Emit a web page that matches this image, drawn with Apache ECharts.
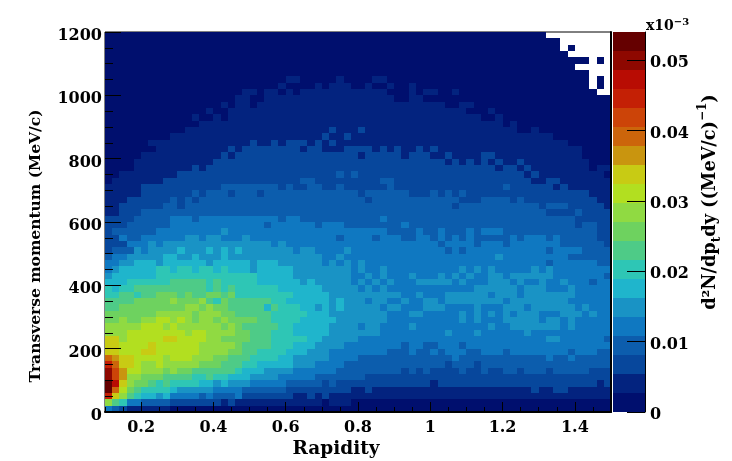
<!DOCTYPE html>
<html>
<head>
<meta charset="utf-8">
<style>
  html, body { margin: 0; padding: 0; background: #fff; }
  #chart { width: 732px; height: 461px; }
</style>
<script src="https://cdn.jsdelivr.net/npm/echarts@6/dist/echarts.min.js"></script>
</head>
<body>
<div id="chart"></div>
<script>
// colour bands of the z scale, lowest first
const bandColors = [
  "#000f6e", "#03237f", "#07479c", "#0c5dad", "#0f78c1",
  "#1993c5", "#1fb5cc", "#2ec6b5", "#4ecb87", "#6ed25f",
  "#90da42", "#b2df20", "#c8cb14", "#c9950f", "#cc650b",
  "#cc4408", "#c42005", "#b80c03", "#8e0800", "#650000",
];
const bandWidth = 0.0027;

const xTicks = [0.2, 0.4, 0.6, 0.8, 1, 1.2, 1.4];
const xMinorTicks = [0.1, 0.15, 0.25, 0.3, 0.35, 0.45, 0.5, 0.55, 0.65, 0.7, 0.75, 0.85, 0.9, 0.95, 1.05, 1.1, 1.15, 1.25, 1.3, 1.35, 1.45, 1.5];
const zTicks = [0, 0.01, 0.02, 0.03, 0.04, 0.05];

// one string per pt row, 1200 at the top. Each char is a colour band (base 20), "." = empty bin
const levelRows = [
  "0000000000 0000000000 0000000000 0000000000 0000000000 0000000000 0.........",
  "0000000000 0000000000 0000000000 0000000000 0000000000 0000000000 000.......",
  "0000000000 0000000000 0000000000 0000000000 0000000000 0000000000 000.0.....",
  "0000000000 0000000000 0000000000 0000000000 0000000000 0000000000 0000......",
  "0000000000 0000000000 0000000000 0000000000 0000000000 0000000000 0000000.0.",
  "0000000000 0000000000 0000000000 0000000000 0000000000 0000000000 00000.....",
  "0000000000 0000000000 0000000000 0000000000 0000000000 0000000000 0000000...",
  "0000000000 0000000000 0000011000 0010000110 0000000000 0000000000 0000000.0.",
  "0000000000 0000000000 0000100001 0111001001 0010000000 0000000000 0000000.0.",
  "0000000000 0000000001 1011010111 1111111110 0010110010 0000000000 00000000..",
  "0000000000 0000000011 0011111111 1111111111 0011000000 0000000000 0000000000",
  "0000000000 0000001011 0111111111 1111111111 1111111001 1000000000 0000000000",
  "0000000000 0000100111 1111111111 1111111111 1111111111 0001000000 0000000000",
  "0000000000 0010010111 1111111111 1111111111 1111111111 1100100000 0000000000",
  "0000000000 0001111111 1111111111 1111111111 1111111111 1111101000 0000000000",
  "0000000000 0111111111 1111111111 1211121111 1111111111 1111111001 0000000000",
  "0000000001 1111111111 1111111111 2112111111 1111111111 1111111111 1100000000",
  "0000001111 1111111111 2112122212 1211111111 1111111111 1111111111 1111000000",
  "0000000111 1111111212 2222222122 1112222121 2112121111 1111111111 1111110000",
  "0000011111 1111112122 2222222222 2222212222 2122211211 1122111111 1111110000",
  "0000111111 1111122222 2222222222 2222222222 2222222121 2121211211 1111111000",
  "0000111111 1121222222 2222222222 2222222222 2222222222 2222122121 1111111011",
  "0011111111 2222222222 2222222222 2232322222 2222222222 2222222212 1111111110",
  "0111111122 2222222222 2222222332 2222222233 2222222222 2222222221 1221111111",
  "1111122222 2222223333 3333232233 2232222223 2222222222 2222232222 2212111111",
  "1111122222 2232333233 3233333333 3333323333 3322232323 2222222222 2222222111",
  "1112222223 2323333333 3333333333 3333332333 3333333332 2233332322 2222222211",
  "1122222233 2333333333 3333333333 3333333333 3333333323 3333333333 2333222221",
  "1122233333 3333333333 3333333333 3333333333 3333333333 3333333333 3222232222",
  "2222333334 4434444444 4444344333 3333333343 3333333333 3333333333 3333322222",
  "2223333334 4444444444 4434444443 4443333333 3433333333 3333333333 3333323322",
  "2333333444 4444445444 4444444444 4444444443 3334334333 4344433333 3333333322",
  "2243344444 4554554445 4444444444 4434444344 4334434343 4333334344 4343333322",
  "2224445455 5555555555 5554544444 4444444444 4444443444 4344434444 4443333332",
  "2333545555 6555656565 5555554554 4445444444 4444444343 4444444444 4344443333",
  "3445555566 5565556555 5555555555 4454444444 4444444444 4444544444 4444333333",
  "4455666566 6666566666 5666555555 4545454444 4444444444 4444444444 4344444433",
  "4566666776 7767767666 5666665555 5555454454 4444444445 4545444445 4544444444",
  "5666666777 7777777777 7666665555 5555445454 4454445454 5445545555 5544444443",
  "6667777778 8888787777 7666666565 5555454545 4445555545 4445554544 5445444344",
  "7677888888 8888787877 7777666666 5555545454 4444444444 4555555455 5444544444",
  "7788788999 8988998977 7777776666 6555555555 5445444555 5554555455 5555544444",
  "888899999a 999a879888 8887766666 6565554554 4544554555 5555545555 5555444444",
  "8899999999 9aa9a99888 8868777665 6565555545 5444555444 4544455545 5555545444",
  "9999999aaa aa9aaa9988 8887777766 6555555554 4455444445 4545454555 4445554544",
  "99a99aabba ba9aa9a999 9887777666 6655555554 4444444445 4544455555 4554544444",
  "aaaaabbbab aaaaaa9a98 8888776666 6555545544 4454444444 4445445555 5554544444",
  "aaabbbbbbb babbaaaa99 8887776666 6555555544 4444444544 4544444454 4444444444",
  "ccabbbbbcc bbbbaa9999 8887777766 5555544444 4444444444 4444444444 4554444443",
  "ccbbbbcbbb bbbaaaaa98 8887776665 5554444444 4344334443 4444444444 4444444444",
  "ccbbbccbbb bbbaaaa998 8777766655 5444444443 3343343444 3344434444 4444344433",
  "edccbbbbab bbaaa99888 7777665555 5444433333 3333333343 3333333333 3433433333",
  "geccbaabaa aaa9998887 7666665554 4443333333 3333333233 3233333333 3333333333",
  "ifdbbaaa9a 9988888876 6655554444 4433333333 3232322223 2232233233 3233333222",
  "ifdaa99988 8877877666 5555444443 3333332222 2222222222 2222222222 2222222222",
  "jhca998787 7776656555 4444433333 2322222222 2222212222 2222222222 2222222212",
  "jeb9877776 5555544443 3333322222 2222112111 1111111111 1111111112 1122111111",
  "gca8766564 4443433342 2222221121 2111111111 1111111111 1111111111 1111111111",
  "a874433332 2222221211 1111111111 0111000000 0000000000 0000000000 0000000000",
  "4321111110 0000000000 0000000000 0000000000 0000000000 0000000000 0000000000",
];

const cells = [];
levelRows.forEach((row, r) => {
  row.replace(/ /g, "").split("").forEach((ch, c) => {
    if (ch !== ".") {
      cells.push([c, levelRows.length - 1 - r, (parseInt(ch, 20) + 0.5) * bandWidth]);
    }
  });
});

const font = "DejaVu Serif";
const textBase = { fontFamily: font, fontWeight: "bold", color: "#000" };
const axisLine = { lineStyle: { color: "#000", width: 1 } };

// heatmap series leaves seams between bins at fractional widths, so snap each bin to pixels
const renderCell = (params, api) => {
  const center = api.coord([api.value(0), api.value(1)]);
  const size = api.size([1, 1]);
  const x0 = Math.round(center[0] - size[0] / 2);
  const x1 = Math.round(center[0] + size[0] / 2);
  const y0 = Math.round(center[1] - size[1] / 2);
  const y1 = Math.round(center[1] + size[1] / 2);
  return {
    type: "rect",
    shape: { x: x0, y: y0, width: x1 - x0, height: y1 - y0 },
    style: { fill: api.visual("color") },
  };
};

const myChart = echarts.init(document.getElementById("chart"));

const option = {
  animation: false,
  backgroundColor: "#fff",
  textStyle: { fontFamily: font },
  grid: [
    { left: 105, right: 121, top: 32, bottom: 49, show: true, borderColor: "#000", borderWidth: 1, backgroundColor: "#fff" },
    { left: 613, width: 32, top: 32, bottom: 49 },
  ],
  visualMap: {
    show: false,
    type: "piecewise",
    seriesIndex: 0,
    dimension: 2,
    pieces: bandColors.map((color, i) => ({ gte: i * bandWidth, lt: (i + 1) * bandWidth, color })),
  },
  xAxis: [
    // bins, only carries the cells
    { type: "category", gridIndex: 0, data: levelRows[0].replace(/ /g, "").split("").map((_, i) => i), show: false },
    {
      type: "value", gridIndex: 0, position: "bottom", min: 0.1, max: 1.5, z: 10,
      axisLine: { show: true, onZero: false, lineStyle: { color: "#000", width: 2 } },
      splitLine: { show: false },
      axisTick: { show: true, inside: true, length: 10, customValues: xTicks, lineStyle: { color: "#000", width: 1 } },
      axisLabel: { show: true, customValues: xTicks, margin: 8, fontSize: 16, ...textBase, formatter: (v) => String(v) },
    },
    {
      type: "value", gridIndex: 0, position: "bottom", min: 0.1, max: 1.5, z: 10,
      axisLine: { show: false },
      splitLine: { show: false },
      axisTick: { show: true, inside: true, length: 5, customValues: xMinorTicks, lineStyle: { color: "#000", width: 1 } },
      axisLabel: { show: false },
    },
    { type: "category", gridIndex: 1, data: [""], show: false },
  ],
  yAxis: [
    { type: "category", gridIndex: 0, data: levelRows.map((_, i) => i), show: false },
    {
      type: "value", gridIndex: 0, position: "left", min: 0, max: 1200, interval: 200, z: 10,
      axisLine: { show: false },
      splitLine: { show: false },
      axisTick: { show: true, inside: true, length: 16, lineStyle: { color: "#000", width: 1 } },
      minorTick: { show: true, splitNumber: 4, length: 8, lineStyle: { color: "#000", width: 1 } },
      axisLabel: { show: true, margin: 3, fontSize: 16, verticalAlign: "top", lineHeight: 8, ...textBase, formatter: (v) => String(v) },
    },
    // right edge of the frame
    {
      type: "value", gridIndex: 0, position: "right", min: 0, max: 1200, z: 10,
      axisLine: { show: true, onZero: false, lineStyle: { color: "#000", width: 2 } },
      splitLine: { show: false }, axisTick: { show: false }, axisLabel: { show: false },
    },
    {
      type: "value", gridIndex: 1, position: "right", min: 0, max: bandWidth * bandColors.length, z: 10,
      axisLine: { show: true, onZero: false, ...axisLine },
      splitLine: { show: false },
      axisTick: { show: true, inside: true, length: 18, customValues: zTicks, lineStyle: { color: "#000", width: 1 } },
      axisLabel: {
        show: true, customValues: zTicks, margin: 5, fontSize: 16, verticalAlign: "top", lineHeight: 6, ...textBase,
        formatter: (v) => (v === 0 ? "0" : v.toFixed(2)),
      },
    },
  ],
  series: [
    {
      type: "custom",
      coordinateSystem: "cartesian2d",
      xAxisIndex: 0,
      yAxisIndex: 0,
      renderItem: renderCell,
      encode: { x: 0, y: 1 },
      data: cells,
      silent: true,
      clip: false,
    },
    // colour scale
    ...bandColors.map((color) => ({
      type: "bar",
      xAxisIndex: 3,
      yAxisIndex: 3,
      stack: "scale",
      barWidth: "100%",
      silent: true,
      itemStyle: { color },
      data: [bandWidth],
    })),
  ],
  graphic: [
    {
      type: "text", x: 336, y: 449, silent: true,
      style: { text: "Rapidity", font: "bold 18.5px 'DejaVu Serif'", fill: "#000", align: "center", verticalAlign: "middle" },
    },
    {
      type: "text", x: 36, y: 246, rotation: Math.PI / 2, silent: true,
      style: { text: "Transverse momentum (MeV/c)", font: "bold 15.5px 'DejaVu Serif'", fill: "#000", align: "center", verticalAlign: "middle" },
    },
    {
      type: "text", x: 710, y: 202, rotation: Math.PI / 2, silent: true,
      style: {
        text: "{n|d²N/dp}{s|t}{n|dy ((MeV/c)}{u|−1}{n|)}",
        align: "center", verticalAlign: "middle",
        rich: {
          n: { font: "bold 17.7px 'DejaVu Serif'", fill: "#000", lineHeight: 26 },
          s: { font: "bold 12px 'DejaVu Serif'", fill: "#000", lineHeight: 26, verticalAlign: "bottom" },
          u: { font: "bold 12px 'DejaVu Serif'", fill: "#000", lineHeight: 26, verticalAlign: "top" },
        },
      },
    },
    {
      type: "text", x: 646, y: 26, silent: true,
      style: {
        text: "{n|x10}{u|−3}",
        align: "left", verticalAlign: "middle",
        rich: {
          n: { font: "bold 14px 'DejaVu Serif'", fill: "#000", lineHeight: 18 },
          u: { font: "bold 10px 'DejaVu Serif'", fill: "#000", lineHeight: 18, verticalAlign: "top" },
        },
      },
    },
  ],
};

myChart.setOption(option);
</script>
</body>
</html>
